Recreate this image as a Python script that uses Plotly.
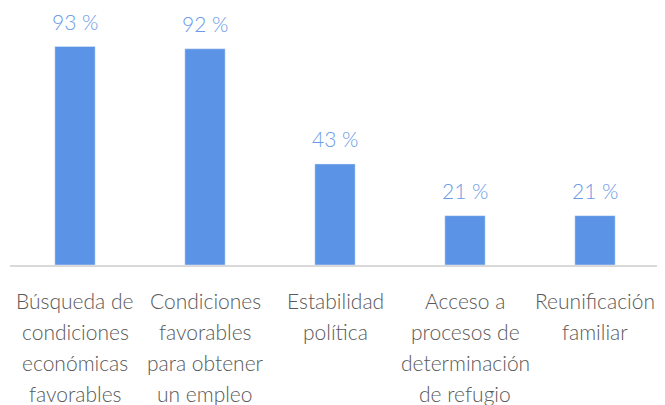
import plotly.graph_objects as go

categories = ["Búsqueda de condiciones económicas favorables",
              "Condiciones favorables para obtener un empleo",
              "Estabilidad política",
              "Acceso a procesos de determinación de refugio",
              "Reunificación familiar"]
label_lines = [["Búsqueda de", "condiciones", "económicas", "favorables"],
               ["Condiciones", "favorables", "para obtener", "un empleo"],
               ["Estabilidad", "política"],
               ["Acceso a", "procesos de", "determinación", "de refugio"],
               ["Reunificación", "familiar"]]
values = [93, 92, 43, 21, 21]
value_text = [f"{v} %" for v in values]

FONT = "Lato, 'Open Sans', sans-serif"

fig = go.Figure(go.Bar(
    x=categories, y=values, marker=dict(color="#5B93E6"), cliponaxis=False,
))

annotations = []
for cat, v, t in zip(categories, values, value_text):
    annotations.append(dict(x=cat, xref="x", y=v, yref="y", yanchor="middle",
                            yshift=25, text=t, showarrow=False,
                            font=dict(color="#6A9BE8", size=21, family=FONT, weight=300)))
for cat, lines in zip(categories, label_lines):
    for i, ln in enumerate(lines):
        annotations.append(dict(x=cat, xref="x", y=0, yref="paper", yanchor="middle",
                                yshift=-(35 + i * 31), text=ln, showarrow=False,
                                font=dict(color="#595959", size=21, family=FONT, weight=300)))

# page body has an 8px margin, so the figure is offset by 8px
fig.update_layout(
    width=657, height=397, margin=dict(l=2, r=5, t=2, b=140),
    paper_bgcolor="white", plot_bgcolor="white", showlegend=False,
    bargap=0.69, annotations=annotations,
    xaxis=dict(showticklabels=False, showline=True, linecolor="#D9D9D9", linewidth=2,
               ticks="", showgrid=False),
    yaxis=dict(visible=False, range=[0, 108.5], showgrid=False),
)
fig.write_html("out.html")
